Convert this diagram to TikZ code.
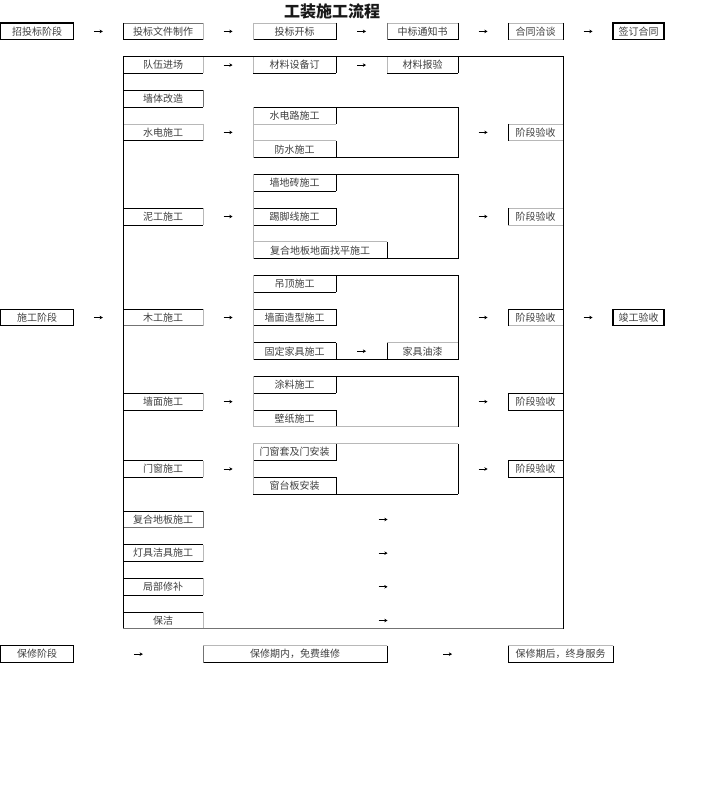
\documentclass[tikz,border=0pt]{standalone}
\usepackage{fontspec}
\setmainfont{Noto Sans CJK SC}
\usetikzlibrary{calc,arrows.meta}
\tikzset{
  cell/.style={inner sep=0pt, outer sep=0pt, anchor=north west, minimum height=16.83pt,
    font=\fontsize{10}{11}\selectfont, text=black!75},
  kl/.style={draw=black, line width=0.9pt},
  gl/.style={draw=black!28, line width=0.9pt},
  ml/.style={draw=black!55, line width=0.9pt},
  stage/.style={cell, draw=black, line width=1.1pt},
  arr/.style={draw=black, line width=0.7pt, -{Stealth[length=3.2pt,width=3.6pt]}},
  pt/.style={inner sep=0pt, outer sep=0pt, minimum size=0pt},
  ttl/.style={font=\fontsize{16}{18}\selectfont\bfseries, text=black!90}
}
\newcommand\sides[5]{%
  \draw[#2] (#1.north west) -- (#1.north east);
  \draw[#3] (#1.north east) -- (#1.south east);
  \draw[#4] (#1.south west) -- (#1.south east);
  \draw[#5] (#1.north west) -- (#1.south west);}
\newcommand\link[2]{%
  \draw[arr] let \p1=(#1.east), \p2=(#2.west) in
    ({(\x1+\x2)/2-4.5pt},\y1) -- ({(\x1+\x2)/2+4.5pt},\y1);}
\begin{document}
\begin{tikzpicture}[x=1pt,y=-1pt]
\useasboundingbox (0,0) rectangle (709,791);
\fill[white] (0,0) rectangle (709,791);

\node[ttl] (title) at (332,11) {工装施工流程};

% ---- row 0
\node[stage, minimum width=73pt] (a0) at (0.6,23) {招投标阶段};
\node[cell, minimum width=80pt] (c0) at (123,23) {投标文件制作};
\node[cell, minimum width=83pt] (e0) at (253,23) {投标开标};
\node[cell, minimum width=71pt] (g0) at (387,23) {中标通知书};
\node[cell, minimum width=55pt] (i0) at (508,23) {合同洽谈};
\node[stage, minimum width=51pt] (k0) at (613,23) {签订合同};
\sides{c0}{ml}{gl}{kl}{kl}
\sides{e0}{gl}{kl}{kl}{gl}
\sides{g0}{gl}{kl}{kl}{ml}
\sides{i0}{gl}{kl}{gl}{kl}

% ---- left column inside big box
\node[cell, minimum width=80pt] (c2) at (123,56.66) {队伍进场};
\node[cell, minimum width=80pt] (c4) at (123,90.32) {墙体改造};
\node[cell, minimum width=80pt] (c6) at (123,123.98) {水电施工};
\node[cell, minimum width=80pt] (c11) at (123,208.13) {泥工施工};
\node[cell, minimum width=80pt] (c17) at (123,309.11) {木工施工};
\node[cell, minimum width=80pt] (c22) at (123,393.26) {墙面施工};
\node[cell, minimum width=80pt] (c26) at (123,460.58) {门窗施工};
\node[cell, minimum width=80pt] (c29) at (123,511.07) {复合地板施工};
\node[cell, minimum width=80pt] (c31) at (123,544.73) {灯具洁具施工};
\node[cell, minimum width=80pt] (c33) at (123,578.39) {局部修补};
\node[cell, minimum width=80pt] (c35) at (123,612.05) {保洁};
\sides{c2}{kl}{gl}{kl}{kl}
\sides{c4}{kl}{ml}{kl}{kl}
\sides{c6}{gl}{gl}{kl}{kl}
\sides{c11}{kl}{gl}{kl}{kl}
\sides{c17}{kl}{gl}{ml}{kl}
\sides{c22}{kl}{gl}{kl}{kl}
\sides{c26}{kl}{gl}{kl}{kl}
\sides{c29}{kl}{ml}{ml}{kl}
\sides{c31}{kl}{gl}{kl}{kl}
\sides{c33}{kl}{gl}{kl}{kl}
\sides{c35}{kl}{gl}{ml}{kl}

% ---- row 2
\node[cell, minimum width=83pt] (e2) at (253,56.66) {材料设备订};
\node[cell, minimum width=71pt] (g2) at (387,56.66) {材料报验};
\sides{e2}{kl}{kl}{kl}{gl}
\sides{g2}{kl}{kl}{kl}{gl}

% ---- sub-cells
\node[cell, minimum width=83pt] (e5) at (253,107.15) {水电路施工};
\node[cell, minimum width=83pt] (e7) at (253,140.81) {防水施工};
\node[cell, minimum width=83pt] (e9) at (253,174.47) {墙地砖施工};
\node[cell, minimum width=83pt] (e11) at (253,208.13) {踢脚线施工};
\node[cell, minimum width=134pt] (e13) at (253,241.79) {复合地板地面找平施工};
\node[cell, minimum width=83pt] (e15) at (253,275.45) {吊顶施工};
\node[cell, minimum width=83pt] (e17) at (253,309.11) {墙面造型施工};
\node[cell, minimum width=83pt] (e19) at (253,342.77) {固定家具施工};
\node[cell, minimum width=71pt] (g19) at (387,342.77) {家具油漆};
\node[cell, minimum width=83pt] (e21) at (253,376.43) {涂料施工};
\node[cell, minimum width=83pt] (e23) at (253,410.09) {壁纸施工};
\node[cell, minimum width=83pt] (e25) at (253,443.75) {门窗套及门安装};
\node[cell, minimum width=83pt] (e27) at (253,477.41) {窗台板安装};
\sides{e5}{kl}{kl}{gl}{gl}
\sides{e7}{gl}{kl}{kl}{gl}
\sides{e9}{kl}{kl}{kl}{gl}
\sides{e11}{kl}{kl}{kl}{gl}
\sides{e13}{gl}{kl}{kl}{gl}
\sides{e15}{kl}{kl}{kl}{gl}
\sides{e17}{kl}{kl}{kl}{gl}
\sides{e19}{kl}{kl}{kl}{gl}
\sides{g19}{gl}{kl}{kl}{kl}
\sides{e21}{kl}{kl}{kl}{gl}
\sides{e23}{kl}{kl}{gl}{gl}
\sides{e25}{gl}{kl}{kl}{gl}
\sides{e27}{kl}{kl}{kl}{gl}

% ---- group boxes
\node[cell, minimum width=205pt, minimum height=50.49pt] (grp1) at (253,107.15) {};
\node[cell, minimum width=205pt, minimum height=84.15pt] (grp2) at (253,174.47) {};
\node[cell, minimum width=205pt, minimum height=84.15pt] (grp3) at (253,275.45) {};
\node[cell, minimum width=205pt, minimum height=50.49pt] (grp4) at (253,376.43) {};
\node[cell, minimum width=205pt, minimum height=50.49pt] (grp5) at (253,443.75) {};
\sides{grp1}{kl}{kl}{kl}{gl}
\sides{grp2}{kl}{kl}{kl}{gl}
\sides{grp3}{kl}{kl}{kl}{gl}
\sides{grp4}{kl}{kl}{gl}{gl}
\sides{grp5}{gl}{kl}{kl}{gl}

% ---- stage acceptance
\node[cell, minimum width=55pt] (i6) at (508,123.98) {阶段验收};
\node[cell, minimum width=55pt] (i11) at (508,208.13) {阶段验收};
\node[cell, minimum width=55pt] (i17) at (508,309.11) {阶段验收};
\node[cell, minimum width=55pt] (i22) at (508,393.26) {阶段验收};
\node[cell, minimum width=55pt] (i26) at (508,460.58) {阶段验收};
\sides{i6}{gl}{kl}{gl}{kl}
\sides{i11}{gl}{kl}{gl}{kl}
\sides{i17}{kl}{kl}{gl}{kl}
\sides{i22}{kl}{kl}{kl}{kl}
\sides{i26}{kl}{kl}{kl}{kl}

% ---- row 17 outer
\node[stage, minimum width=73pt] (a17) at (0.6,309.11) {施工阶段};
\node[stage, minimum width=51pt] (k17) at (613,309.11) {竣工验收};

% ---- big box
\draw[kl] (123,628.88) -- (123,56.66) -- (563,56.66) -- (563,628.88);
\draw[ml] (123,628.88) -- (563,628.88);

% ---- row 37
\node[stage, minimum width=73pt] (a37) at (0.6,645.71) {保修阶段};
\node[cell, minimum width=184pt] (d37) at (203,645.71) {保修期内，免费维修};
\node[cell, minimum width=105pt] (i37) at (508,645.71) {保修期后，终身服务};
\sides{d37}{gl}{kl}{kl}{ml}
\sides{i37}{gl}{kl}{kl}{kl}

% ---- free arrow ends at the big box right side
\node[pt] (r29) at (563,519.49) {};
\node[pt] (r31) at (563,553.15) {};
\node[pt] (r33) at (563,586.81) {};
\node[pt] (r35) at (563,620.47) {};

% ---- arrows
\link{a0}{c0} \link{c0}{e0} \link{e0}{g0} \link{g0}{i0} \link{i0}{k0}
\link{c2}{e2} \link{e2}{g2}
\link{c6}{grp1} \link{grp1}{i6}
\link{c11}{grp2} \link{grp2}{i11}
\link{a17}{c17} \link{c17}{grp3} \link{grp3}{i17} \link{i17}{k17}
\link{e19}{g19}
\link{c22}{grp4} \link{grp4}{i22}
\link{c26}{grp5} \link{grp5}{i26}
\link{c29}{r29} \link{c31}{r31} \link{c33}{r33} \link{c35}{r35}
\link{a37}{d37} \link{d37}{i37}
\end{tikzpicture}
\end{document}
